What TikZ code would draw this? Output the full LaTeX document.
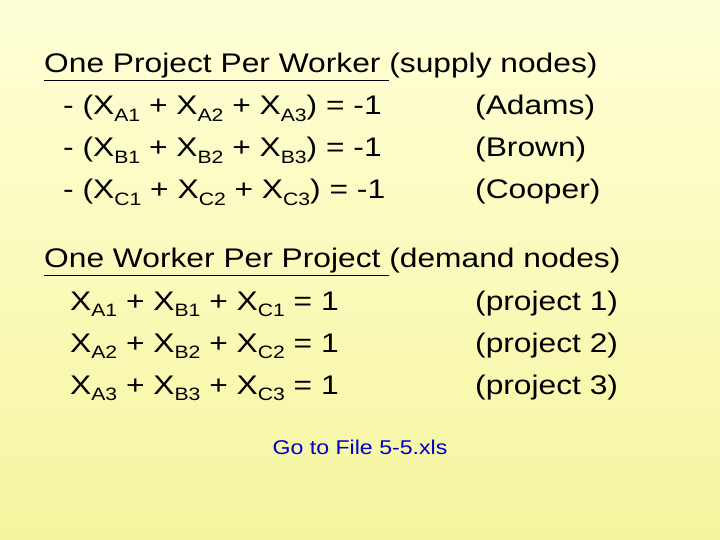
\documentclass[tikz,border=0pt]{standalone}
\usepackage{fontspec}
\setmainfont{Liberation Sans}
\usepackage{graphicx}
\newcommand\sbs[1]{\raisebox{-0.25em}{\fontsize{18}{18}\selectfont #1}}
\newcommand\wide[1]{\scalebox{1.18}[1]{#1}}
\definecolor{bgtop}{RGB}{255,255,215}
\definecolor{bgbot}{RGB}{245,245,160}
\definecolor{linkblue}{RGB}{0,0,200}
\tikzset{t/.style={anchor=base west,inner sep=0pt,font=\fontsize{27}{27}\selectfont}}
\begin{document}
\begin{tikzpicture}[x=1bp,y=-1bp]
\shade[top color=bgtop,bottom color=bgbot] (0,0) rectangle (720,540);
\useasboundingbox (0,0) rectangle (720,540);
\node[t] (h1) at (44,73) {\wide{\underline{One Project Per Worker }(supply nodes)}};
\node[t] (a1) at (44,115) {\wide{\hspace{0.6em}- (X\sbs{A1} + X\sbs{A2} + X\sbs{A3}) = -1}};
\node[t] (a2) at (44,157) {\wide{\hspace{0.6em}- (X\sbs{B1} + X\sbs{B2} + X\sbs{B3}) = -1}};
\node[t] (a3) at (44,199) {\wide{\hspace{0.6em}- (X\sbs{C1} + X\sbs{C2} + X\sbs{C3}) = -1}};
\node[t] (r1) at (475,115) {\wide{(Adams)}};
\node[t] (r2) at (475,157) {\wide{(Brown)}};
\node[t] (r3) at (475,199) {\wide{(Cooper)}};
\node[t] (h2) at (44,268) {\wide{\underline{One Worker Per Project }(demand nodes)}};
\node[t] (b1) at (70,310) {\wide{X\sbs{A1} + X\sbs{B1} + X\sbs{C1} = 1}};
\node[t] (b2) at (70,352) {\wide{X\sbs{A2} + X\sbs{B2} + X\sbs{C2} = 1}};
\node[t] (b3) at (70,394) {\wide{X\sbs{A3} + X\sbs{B3} + X\sbs{C3} = 1}};
\node[t] (p1) at (475,310) {\wide{(project 1)}};
\node[t] (p2) at (475,352) {\wide{(project 2)}};
\node[t] (p3) at (475,394) {\wide{(project 3)}};
\node[anchor=base,inner sep=0pt,font=\fontsize{20}{20}\selectfont,text=linkblue] (go) at (360,454) {\scalebox{1.16}[1]{Go to File 5-5.xls}};
\end{tikzpicture}
\end{document}
